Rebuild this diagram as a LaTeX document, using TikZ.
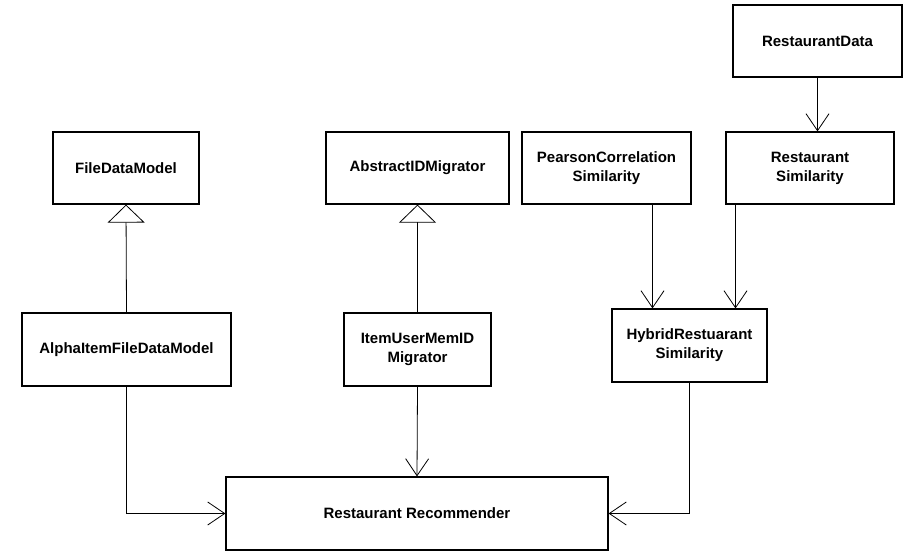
\documentclass[tikz,border=0pt]{standalone}
\usepackage{fontspec}
\setmainfont{Liberation Sans}
\usetikzlibrary{arrows.meta}

\begin{document}
\begin{tikzpicture}[
      x=1pt, y=-1pt,
      class/.style = {draw, line width=1.2pt, rectangle, inner sep=0pt,
                      align=center, minimum height=72pt,
                      font=\fontsize{15}{19}\selectfont\bfseries},
      generalization/.style = {line width=0.8pt,
                               arrows={-Triangle[open, length=18pt, width=37pt, fill=white]}},
      dependency/.style = {line width=0.8pt,
                           arrows={-Straight Barb[length=17pt, width=23pt]}},
    ]
    %% Fix the page to the size of the picture
    \useasboundingbox (0,0) rectangle (907,559);

    %% Draw the classes
    \node [class, minimum width=169pt] (data) at (817.5,41) {RestaurantData};
    \node [class, minimum width=146pt] (fdm) at (126,168) {FileDataModel};
    \node [class, minimum width=183pt] (aidm) at (417.5,168) {AbstractIDMigrator};
    \node [class, minimum width=169pt] (pearson) at (606.5,168)
      {PearsonCorrelation\\Similarity};
    \node [class, minimum width=168pt] (rsim) at (810,168) {Restaurant\\Similarity};
    \node [class, minimum width=209pt, minimum height=73pt] (alpha) at (126.5,349.5)
      {AlphaItemFileDataModel};
    \node [class, minimum width=147pt, minimum height=73pt] (iumm) at (417.5,349.5)
      {ItemUserMemID\\Migrator};
    \node [class, minimum width=155pt, minimum height=73pt] (hybrid) at (689.5,345.5)
      {HybridRestuarant\\Similarity};
    \node [class, minimum width=382pt, minimum height=73pt] (rec) at (417,513.5)
      {Restaurant Recommender};

    %% Inheritance
    \draw [generalization] (alpha.north) -- (fdm.south);
    \draw [generalization] (iumm.north) -- (aidm.south);

    %% Dependencies between the similarities
    \draw [dependency] (data.south) -- (data.south |- rsim.north);
    \draw [dependency] ([xshift=-37pt]hybrid.north |- pearson.south)
      -- ([xshift=-37pt]hybrid.north);
    \draw [dependency] ([xshift=46pt]hybrid.north |- rsim.south)
      -- ([xshift=46pt]hybrid.north);

    %% Everything feeds the recommender
    \draw [dependency] (alpha.south) |- (rec.west);
    \draw [dependency] (iumm.south) -- (rec.north);
    \draw [dependency] (hybrid.south) |- (rec.east);
  \end{tikzpicture}
\end{document}
